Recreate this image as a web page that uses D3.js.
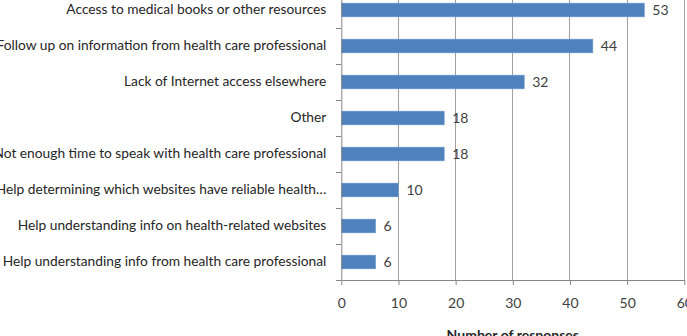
<!DOCTYPE html>
<html><head><meta charset="utf-8">
<script src="https://cdn.jsdelivr.net/npm/d3@7"></script>
<style>body{margin:0;background:#fff}svg{display:block}</style>
</head><body>
<script>
const categories = [
  "Access to medical books or other resources",
  "Follow up on information from health care professional",
  "Lack of Internet access elsewhere",
  "Other",
  "Not enough time to speak with health care professional",
  "Help determining which websites have reliable health…",
  "Help understanding info on health-related websites",
  "Help understanding info from health care professional"
];
const values = [53, 44, 32, 18, 18, 10, 6, 6];
const xTicks = [0, 10, 20, 30, 40, 50, 60];
const xTitle = "Number of responses";

(function () {
const W = 687, H = 336;
const pLeft = 341.3, pRight = 684.3, pTop = -8, pBottom = 280;
const font = "Lato, 'Open Sans', sans-serif";

const svg = d3.select("body").append("svg").attr("width", W).attr("height", H);
const x = d3.scaleLinear().domain([0, 60]).range([pLeft, pRight]);
const y = d3.scaleBand().domain(categories).range([pTop, pBottom]).paddingInner(0.62).paddingOuter(0.31);

// gridlines
svg.append("g").selectAll("line").data(xTicks.filter(d => d > 0)).join("line")
  .attr("x1", d => x(d)).attr("x2", d => x(d)).attr("y1", pTop).attr("y2", pBottom)
  .attr("stroke", "#a0a0a0").attr("stroke-width", 1).attr("shape-rendering", "crispEdges");

// bars
svg.append("g").selectAll("rect").data(values).join("rect")
  .attr("x", x(0)).attr("y", (d, i) => y(categories[i]))
  .attr("width", d => x(d) - x(0)).attr("height", y.bandwidth())
  .attr("fill", "#4f81bd").attr("stroke", "#6f98cc").attr("stroke-width", 0.6);

// value labels
svg.append("g").selectAll("text").data(values).join("text")
  .attr("x", d => x(d) + 8).attr("y", (d, i) => y(categories[i]) + y.bandwidth() / 2)
  .attr("dy", "0.36em").attr("fill", "#404040")
  .style("font-family", font).style("font-size", "14px").text(d => d);

// x axis
const xa = svg.append("g").attr("transform", `translate(0,${pBottom})`)
  .call(d3.axisBottom(x).tickValues(xTicks).tickSize(5).tickPadding(13).tickSizeOuter(0));
xa.select(".domain").attr("stroke", "#868686");
xa.selectAll(".tick line").attr("stroke", "#868686");
xa.selectAll("text").attr("fill", "#404040").style("font-family", font).style("font-size", "14px");

// y axis
const ya = svg.append("g").attr("transform", `translate(${pLeft},0)`)
  .call(d3.axisLeft(y).tickSize(0).tickPadding(15));
ya.select(".domain").attr("stroke", "#868686");
ya.selectAll("text").attr("fill", "#262626").style("font-family", font).style("font-size", "13.75px");
// category separator ticks
svg.append("g").selectAll("line").data(d3.range(categories.length + 1)).join("line")
  .attr("x1", pLeft - 5).attr("x2", pLeft)
  .attr("y1", i => pTop + i * (pBottom - pTop) / categories.length)
  .attr("y2", i => pTop + i * (pBottom - pTop) / categories.length)
  .attr("stroke", "#868686").attr("shape-rendering", "crispEdges");

// axis title
svg.append("text").attr("x", (pLeft + pRight) / 2).attr("y", 340).attr("text-anchor", "middle")
  .attr("fill", "#262626").style("font-family", font).style("font-size", "14px").style("font-weight", "bold")
  .text(xTitle);
})();
</script>
</body></html>
